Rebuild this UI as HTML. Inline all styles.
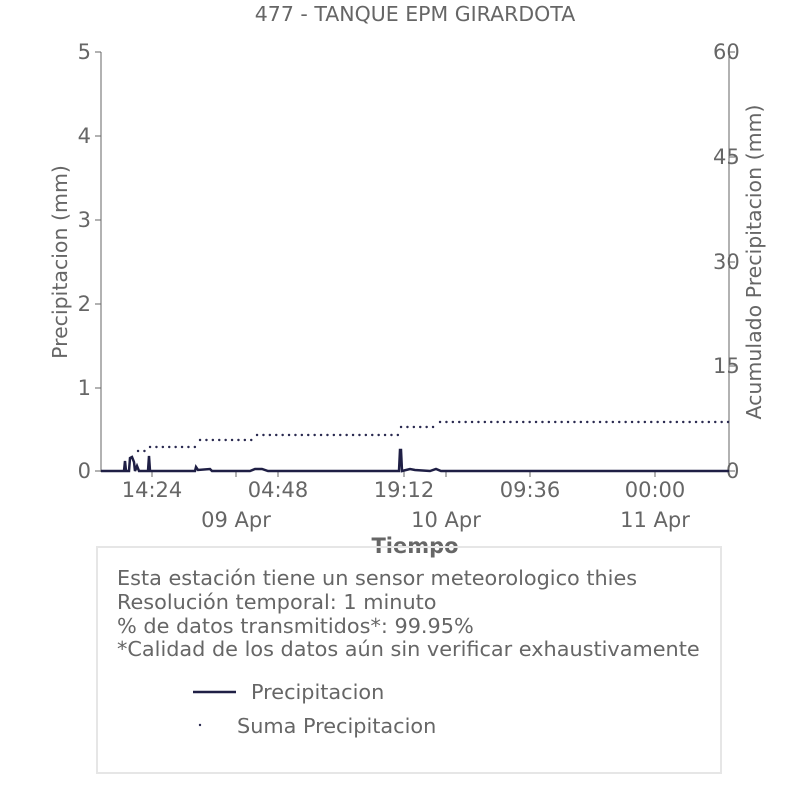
<!DOCTYPE html>
<html><head><meta charset="utf-8"><style>body{margin:0;background:#fff}svg{display:block;font-family:"DejaVu Sans","Liberation Sans",sans-serif}</style></head><body>
<svg width="806" height="806" viewBox="0 0 806 806">
<text x="415" y="21" text-anchor="middle" font-size="20.5" fill="#666">477 - TANQUE EPM GIRARDOTA</text>
<g stroke="#666" stroke-width="1" fill="none">
<line x1="101" y1="52" x2="101" y2="472"/>
<line x1="729" y1="52" x2="729" y2="472"/>
<line x1="95" y1="52" x2="101" y2="52"/><line x1="95" y1="136" x2="101" y2="136"/><line x1="95" y1="220" x2="101" y2="220"/><line x1="95" y1="304" x2="101" y2="304"/><line x1="95" y1="388" x2="101" y2="388"/><line x1="95" y1="471" x2="101" y2="471"/>
<line x1="729" y1="52" x2="735" y2="52"/><line x1="729" y1="157" x2="735" y2="157"/><line x1="729" y1="262" x2="735" y2="262"/><line x1="729" y1="366" x2="735" y2="366"/><line x1="729" y1="471" x2="735" y2="471"/>
<line x1="152" y1="471" x2="152" y2="477"/><line x1="278" y1="471" x2="278" y2="477"/><line x1="404" y1="471" x2="404" y2="477"/><line x1="530" y1="471" x2="530" y2="477"/><line x1="655" y1="471" x2="655" y2="477"/>
<line x1="236" y1="471" x2="236" y2="477"/><line x1="446" y1="471" x2="446" y2="477"/>
</g>
<g font-size="21" fill="#666" text-anchor="end">
<text x="91" y="59">5</text><text x="91" y="143">4</text><text x="91" y="227">3</text><text x="91" y="311">2</text><text x="91" y="395">1</text><text x="91" y="478">0</text>
</g>
<g font-size="21" fill="#666">
<text x="713" y="59">60</text><text x="713" y="164">45</text><text x="713" y="269">30</text><text x="713" y="373">15</text><text x="726" y="478">0</text>
</g>
<g font-size="21" fill="#666" text-anchor="middle">
<text x="152" y="497">14:24</text><text x="278" y="497">04:48</text><text x="404" y="497">19:12</text><text x="530" y="497">09:36</text><text x="655" y="497">00:00</text>
<text x="236" y="527">09 Apr</text><text x="446" y="527">10 Apr</text><text x="655" y="527">11 Apr</text>
<text x="415" y="553" font-weight="bold">Tiempo</text>
</g>
<text transform="translate(67,262) rotate(-90)" font-size="20.5" fill="#666" text-anchor="middle">Precipitacion (mm)</text>
<text transform="translate(761,262) rotate(-90)" font-size="20.5" fill="#666" text-anchor="middle">Acumulado Precipitacion (mm)</text>
<path d="M101 471 L124 471 L125 461 L126 471 L129 471 L130 458 L132 457 L134 462 L135 471 L137 466 L139 471 L148 471 L149 456 L150 471 L195 471 L196 467 L198 470 L210 469 L212 471 L250 471 L255 469 L262 469 L268 471 L399 471 L400 450 L401 450 L402 471 L410 469 L415 470 L430 471 L436 469 L441 471 L729 471" fill="none" stroke="#1f1f45" stroke-width="2.5"/>
<g stroke="#2a2a50" stroke-width="2.4" stroke-dasharray="0.1 6.3" stroke-linecap="round" fill="none">
<path d="M138 451 H148 M150 447 H197 M200 440 H253 M257 435 H398 M401 427 H436 M440 422 H729"/>
</g>
<rect x="97" y="547" width="624" height="226" fill="none" stroke="#e6e6e6" stroke-width="2"/>
<g font-size="20.8" fill="#666">
<text x="117" y="585">Esta estación tiene un sensor meteorologico thies</text>
<text x="117" y="609">Resolución temporal: 1 minuto</text>
<text x="117" y="633">% de datos transmitidos*: 99.95%</text>
<text x="117" y="656">*Calidad de los datos aún sin verificar exhaustivamente</text>
<text x="251" y="699">Precipitacion</text>
<text x="237" y="733">Suma Precipitacion</text>
</g>
<line x1="193" y1="692" x2="236" y2="692" stroke="#1f1f45" stroke-width="2.5"/>
<circle cx="200" cy="725" r="1.2" fill="#2a2a50"/>
</svg>
</body></html>
